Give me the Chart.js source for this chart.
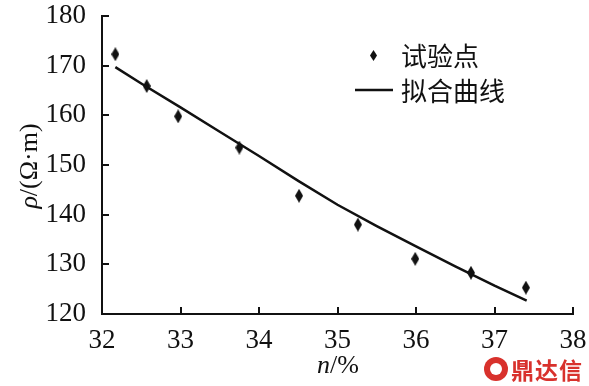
<!DOCTYPE html>
<html>
<head>
<meta charset="utf-8">
<script src="https://cdn.jsdelivr.net/npm/chart.js@4/dist/chart.umd.min.js"></script>
<style>
  html, body { margin: 0; padding: 0; background: #fff; }
  #wrap { position: relative; width: 589px; height: 386px; }
  #mark {
    position: absolute; left: 484px; top: 352px;
    font: bold 23px "Noto Sans CJK SC", sans-serif; color: #d8312c;
    display: flex; align-items: center; letter-spacing: 1px;
  }
  #mark .logo {
    width: 24px; height: 24px; border-radius: 50%; background: #d8312c;
    margin-right: 3px; position: relative;
  }
  #mark .logo::after {
    content: ""; position: absolute; left: 6px; top: 6px; width: 12px; height: 12px;
    border-radius: 50%; background: #fff;
  }
</style>
</head>
<body>
<div id="wrap">
  <canvas id="grafico" width="589" height="386"></canvas>
  <div id="mark"><span class="logo"></span>鼎达信</div>
</div>
<script>
// datos
const puntosX = [32.17, 32.57, 32.97, 33.75, 34.51, 35.26, 35.99, 36.70, 37.40];
const puntosY = [172.3, 165.9, 159.8, 153.5, 143.8, 138.0, 131.1, 128.3, 125.3];
const ajusteX = [32.17, 32.5, 33.0, 33.5, 34.0, 34.5, 35.0, 35.5, 36.0, 36.5, 37.0, 37.41];
const ajusteY = [169.7, 166.4, 161.6, 156.7, 151.8, 146.8, 142.0, 137.7, 133.6, 129.6, 125.7, 122.7];
const ticksX = [32, 33, 34, 35, 36, 37, 38];
const ticksY = [120, 130, 140, 150, 160, 170, 180];
const etiquetas = ['试验点', '拟合曲线'];

const serif = '"Liberation Serif", "Times New Roman", serif';
const cjk = '"Noto Sans CJK SC", sans-serif';

// rombo alargado para los puntos
function rombo(w, h) {
    const c = document.createElement('canvas');
    c.width = w; c.height = h;
    const g = c.getContext('2d');
    g.fillStyle = '#111';
    g.beginPath();
    g.moveTo(w / 2, 0); g.lineTo(w, h / 2); g.lineTo(w / 2, h); g.lineTo(0, h / 2);
    g.closePath(); g.fill();
    return c;
}

const extras = {
    id: 'extras',
    afterDraw(chart) {
        const ctx = chart.ctx;
        const xs = chart.scales.x, ys = chart.scales.y;
        ctx.save();
        ctx.strokeStyle = '#111';
        ctx.lineWidth = 2;
        // ticks hacia dentro
        ticksX.forEach(v => {
            const px = Math.round(xs.getPixelForValue(v));
            ctx.beginPath(); ctx.moveTo(px, ys.bottom); ctx.lineTo(px, ys.bottom - 7); ctx.stroke();
        });
        ticksY.forEach(v => {
            const py = Math.round(ys.getPixelForValue(v));
            ctx.beginPath(); ctx.moveTo(xs.left, py); ctx.lineTo(xs.left + 7, py); ctx.stroke();
        });

        // título eje y
        ctx.fillStyle = '#111';
        ctx.save();
        ctx.translate(30, 166);
        ctx.rotate(-Math.PI / 2);
        ctx.textBaseline = 'middle';
        ctx.font = 'italic 26px ' + serif;
        const a = 'ρ', b = '/(Ω·m)';
        const wa = ctx.measureText(a).width;
        ctx.font = '26px ' + serif;
        const wb = ctx.measureText(b).width;
        let x0 = -(wa + wb) / 2;
        ctx.font = 'italic 26px ' + serif;
        ctx.textAlign = 'left';
        ctx.fillText(a, x0, 0);
        ctx.font = '26px ' + serif;
        ctx.fillText(b, x0 + wa, 0);
        ctx.restore();

        // título eje x
        ctx.textBaseline = 'middle';
        ctx.textAlign = 'left';
        ctx.font = 'italic 26px ' + serif;
        const n = 'n', p = '/%';
        const wn = ctx.measureText(n).width;
        ctx.font = '26px ' + serif;
        const wp = ctx.measureText(p).width;
        let xx = 338 - (wn + wp) / 2;
        ctx.font = 'italic 26px ' + serif;
        ctx.fillText(n, xx, 366);
        ctx.font = '26px ' + serif;
        ctx.fillText(p, xx + wn, 366);

        // leyenda
        ctx.drawImage(rombo(7, 11), 370, 50);
        ctx.lineWidth = 2.5;
        ctx.beginPath(); ctx.moveTo(355, 90); ctx.lineTo(393, 90); ctx.stroke();
        ctx.font = '26px ' + cjk;
        ctx.fillText(etiquetas[0], 401, 56);
        ctx.fillText(etiquetas[1], 401, 91);
        ctx.restore();
    }
};

new Chart(document.getElementById('grafico'), {
    type: 'scatter',
    data: {
        datasets: [{
            label: etiquetas[0],
            data: puntosX.map((x, i) => ({ x: x, y: puntosY[i] })),
            pointStyle: rombo(8, 14),
            pointRadius: 6,
            showLine: false
        }, {
            label: etiquetas[1],
            data: ajusteX.map((x, i) => ({ x: x, y: ajusteY[i] })),
            showLine: true,
            borderColor: '#111',
            borderWidth: 2.5,
            pointRadius: 0,
            tension: 0
        }]
    },
    options: {
        responsive: false,
        animation: false,
        layout: { padding: { top: 16, right: 16, left: 0, bottom: 0 } },
        plugins: { legend: { display: false }, tooltip: { enabled: false } },
        scales: {
            x: {
                min: 32, max: 38,
                afterFit: s => { s.height = 72; s.paddingLeft = 0; s.paddingRight = 0; },
                afterBuildTicks: s => { s.ticks = ticksX.map(v => ({ value: v })); },
                grid: { display: false },
                border: { display: true, color: '#111', width: 2 },
                ticks: { color: '#111', font: { family: serif, size: 27 }, padding: 3 }
            },
            y: {
                min: 120, max: 180,
                afterFit: s => { s.width = 102; s.paddingTop = 0; s.paddingBottom = 0; },
                afterBuildTicks: s => { s.ticks = ticksY.map(v => ({ value: v })); },
                grid: { display: false },
                border: { display: true, color: '#111', width: 2 },
                ticks: { color: '#111', font: { family: serif, size: 27 }, padding: 8 }
            }
        }
    },
    plugins: [extras]
});
</script>
</body>
</html>
